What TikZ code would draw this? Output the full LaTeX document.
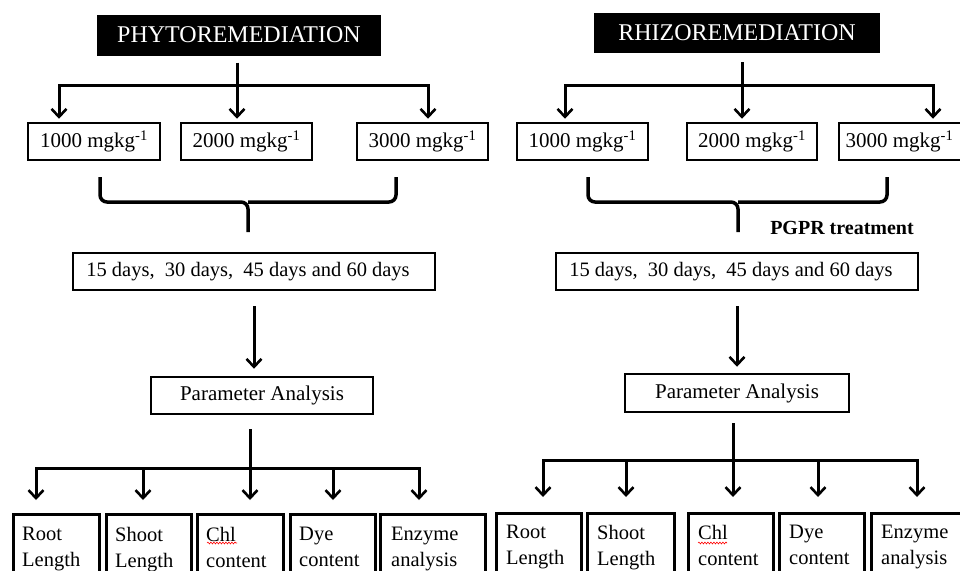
\documentclass[tikz,border=0pt]{standalone}
\usepackage{fontspec}
\setmainfont{Liberation Serif}
\usetikzlibrary{arrows.meta,decorations.pathmorphing,calc}
\begin{document}
\begin{tikzpicture}[x=1pt,y=-1pt,
  hdr/.style={fill=black,text=white,inner sep=0,font=\fontsize{24}{28}\selectfont},
  bx/.style={draw,line width=2.5pt,inner sep=0,font=\fontsize{21}{25}\selectfont},
  bb/.style={draw,line width=2.5pt,inner sep=0,anchor=north west,minimum height=80pt},
  btext/.style={inner sep=0,anchor=north west,align=left,font=\fontsize{20.5}{26}\selectfont},
  conn/.style={line width=3pt},
  arr/.style={line width=3pt,-{Straight Barb[length=8pt,width=15pt,line width=2.6pt]}},
  brace/.style={line width=3.5pt,rounded corners=7pt},
  wavy/.style={red,line width=0.6pt,decorate,decoration={snake,amplitude=0.9pt,segment length=3pt}}
]
\useasboundingbox (0,0) rectangle (960,570);
\clip (0,0) rectangle (960,570);
\fill[white] (0,0) rectangle (960,570);

% ================= LEFT: PHYTOREMEDIATION =================
\node[hdr,minimum width=284pt,minimum height=41pt] (phyto) at (239,35) {PHYTOREMEDIATION};
\node[bx,minimum width=132pt,minimum height=37pt] (l1) at (94,141.5) {1000 mgkg\textsuperscript{-1}};
\node[bx,minimum width=131pt,minimum height=37pt] (l2) at (246.5,141.5) {2000 mgkg\textsuperscript{-1}};
\node[bx,minimum width=131pt,minimum height=37pt] (l3) at (422.5,141.5) {3000 mgkg\textsuperscript{-1}};

\coordinate (lbar) at (237,85);
\coordinate (lbarL) at (59,85);
\coordinate (lbarR) at (428,85);
\draw[conn,shorten <=7pt] (lbar |- phyto.south) -- (lbar);
\draw[arr,shorten >=3pt] (lbar) -- (lbarL) -- (lbarL |- l1.north);
\draw[arr,shorten >=3pt] (lbar) -- (lbarR) -- (lbarR |- l3.north);
\draw[arr,shorten >=3pt] (lbar) -- (lbar |- l2.north);

% brace
\coordinate (lbrL) at (100,177);
\coordinate (lbrR) at (396,177);
\coordinate (lbrT) at (248,232);
\draw[brace] (lbrL) -- (100,202) -- (248,202) -- (lbrT);
\draw[brace] (lbrR) -- (396,202) -- (248,202);

\node[bx,minimum width=362pt,minimum height=37pt,font=\fontsize{20.5}{25}\selectfont] (ldays) at (254,271.5) {15 days, \ 30 days, \ 45 days and 60 days\hspace*{12pt}};
\node[bx,minimum width=222pt,minimum height=37pt] (lparam) at (262,395.5) {Parameter Analysis};
\draw[arr,shorten <=15pt,shorten >=7pt] (ldays.south) -- (ldays.south |- lparam.north);

\coordinate (lpb) at (250,468);
\coordinate (lpbL) at (36,468);
\coordinate (lpb2) at (143,468);
\coordinate (lpb4) at (333,468);
\coordinate (lpbR) at (419,468);

\node[bb,minimum width=86pt] (lroot) at (12,513) {};
\node[bb,minimum width=85pt] (lshoot) at (105,513) {};
\node[bb,minimum width=86pt] (lchl) at (196,513) {};
\node[bb,minimum width=85pt] (ldye) at (289,513) {};
\node[bb,minimum width=105pt] (lenz) at (379,513) {};
\node[btext] (lroott) at ([xshift=10pt,yshift=-14pt]lroot.north west) {Root\\Length};
\node[btext] (lshoott) at ([xshift=10pt,yshift=-14pt]lshoot.north west) {Shoot\\Length};
\node[btext] (lchlt) at ([xshift=10pt,yshift=-14pt]lchl.north west) {Chl\\content};
\node[btext] (ldyet) at ([xshift=10pt,yshift=-14pt]ldye.north west) {Dye\\content};
\node[btext] (lenzt) at ([xshift=12pt,yshift=-14pt]lenz.north west) {Enzyme\\analysis};
\draw[wavy] ($(lchl.north west)+(11,30)$) -- ($(lchl.north west)+(41,30)$);

\draw[conn,shorten <=14pt] (lpb |- lparam.south) -- (lpb);
\draw[arr,shorten >=13pt] (lpb) -- (lpbL) -- (lpbL |- lroot.north);
\draw[arr,shorten >=13pt] (lpb) -- (lpbR) -- (lpbR |- lenz.north);
\draw[arr,shorten >=13pt] (lpb2) -- (lpb2 |- lshoot.north);
\draw[arr,shorten >=13pt] (lpb) -- (lpb |- lchl.north);
\draw[arr,shorten >=13pt] (lpb4) -- (lpb4 |- ldye.north);

% ================= RIGHT: RHIZOREMEDIATION =================
\node[hdr,minimum width=286pt,minimum height=40pt] (rhizo) at (737,33) {RHIZOREMEDIATION};
\node[bx,minimum width=131pt,minimum height=37pt] (r1) at (582.5,141.5) {1000 mgkg\textsuperscript{-1}};
\node[bx,minimum width=130pt,minimum height=37pt] (r2) at (752,141.5) {2000 mgkg\textsuperscript{-1}};
\node[bx,minimum width=131pt,minimum height=37pt] (r3) at (904.5,141.5) {3000 mgkg\textsuperscript{-1}\hspace*{10pt}};

\coordinate (rbar) at (742,85);
\coordinate (rbarL) at (565,85);
\coordinate (rbarR) at (933,85);
\draw[conn,shorten <=9pt] (rbar |- rhizo.south) -- (rbar);
\draw[arr,shorten >=3pt] (rbar) -- (rbarL) -- (rbarL |- r1.north);
\draw[arr,shorten >=3pt] (rbar) -- (rbarR) -- (rbarR |- r3.north);
\draw[arr,shorten >=3pt] (rbar) -- (rbar |- r2.north);

\coordinate (rbrL) at (588,177);
\coordinate (rbrR) at (887,177);
\coordinate (rbrT) at (738,232);
\draw[brace] (rbrL) -- (588,202) -- (738,202) -- (rbrT);
\draw[brace] (rbrR) -- (887,202) -- (738,202);
\node[inner sep=0,font=\fontsize{20}{24}\selectfont\bfseries] (pgpr) at (842,228) {PGPR treatment};

\node[bx,minimum width=362pt,minimum height=37pt,font=\fontsize{20.5}{25}\selectfont] (rdays) at (737,271.5) {15 days, \ 30 days, \ 45 days and 60 days\hspace*{12pt}};
\node[bx,minimum width=224pt,minimum height=38pt] (rparam) at (737,393) {Parameter Analysis};
\draw[arr,shorten <=15pt,shorten >=6pt] (rdays.south) -- (rdays.south |- rparam.north);

\coordinate (rpb) at (733,460);
\coordinate (rpbL) at (543,460);
\coordinate (rpb2) at (626,460);
\coordinate (rpb4) at (818,460);
\coordinate (rpbR) at (917,460);

\node[bb,minimum width=85pt] (rroot) at (495,512) {};
\node[bb,minimum width=87pt] (rshoot) at (586,512) {};
\node[bb,minimum width=85pt] (rchl) at (687,512) {};
\node[bb,minimum width=85pt] (rdye) at (778,512) {};
\node[bb,minimum width=110pt] (renz) at (870,512) {};
\node[btext] (rroott) at ([xshift=11pt,yshift=-13pt]rroot.north west) {Root\\Length};
\node[btext] (rshoott) at ([xshift=11pt,yshift=-13pt]rshoot.north west) {Shoot\\Length};
\node[btext] (rchlt) at ([xshift=11pt,yshift=-13pt]rchl.north west) {Chl\\content};
\node[btext] (rdyet) at ([xshift=11pt,yshift=-13pt]rdye.north west) {Dye\\content};
\node[btext] (renzt) at ([xshift=11pt,yshift=-13pt]renz.north west) {Enzyme\\analysis};
\draw[wavy] ($(rchl.north west)+(11,31)$) -- ($(rchl.north west)+(40,31)$);

\draw[conn,shorten <=10pt] (rpb |- rparam.south) -- (rpb);
\draw[arr,shorten >=15pt] (rpb) -- (rpbL) -- (rpbL |- rroot.north);
\draw[arr,shorten >=15pt] (rpb) -- (rpbR) -- (rpbR |- renz.north);
\draw[arr,shorten >=15pt] (rpb2) -- (rpb2 |- rshoot.north);
\draw[arr,shorten >=15pt] (rpb) -- (rpb |- rchl.north);
\draw[arr,shorten >=15pt] (rpb4) -- (rpb4 |- rdye.north);
\end{tikzpicture}
\end{document}
